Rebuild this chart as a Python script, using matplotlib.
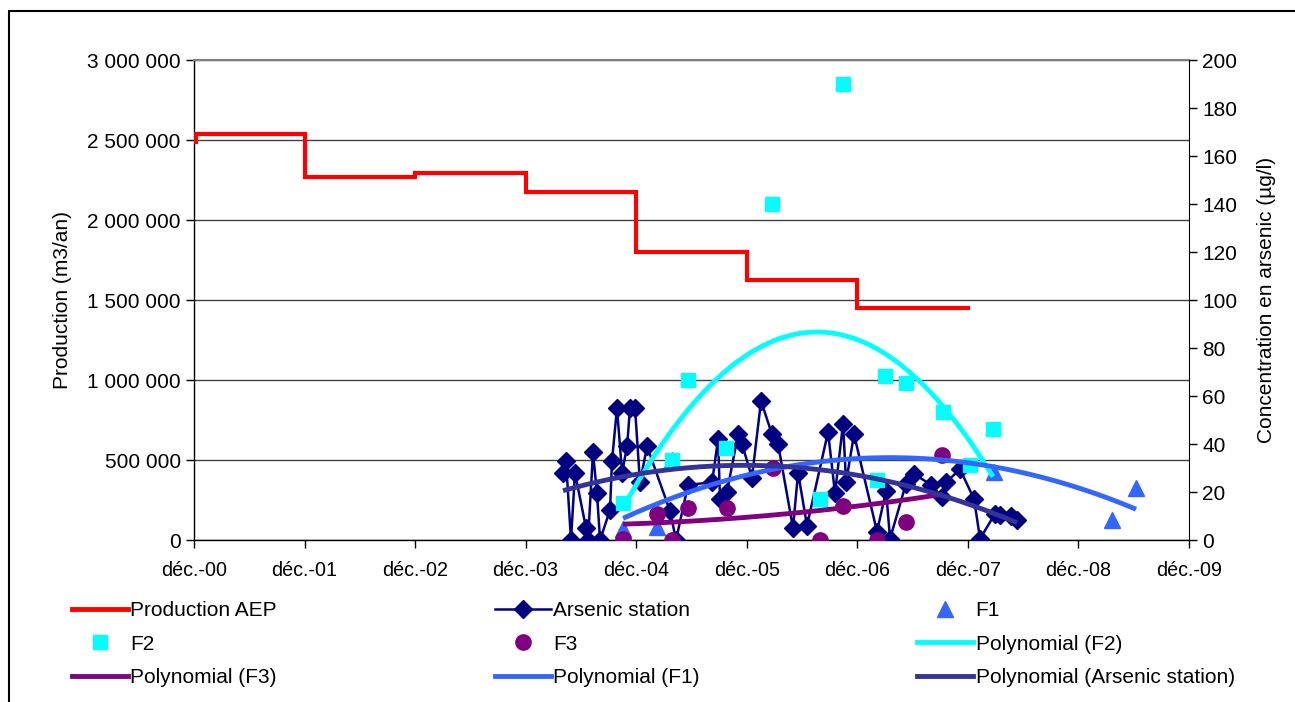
import numpy as np
import matplotlib
matplotlib.use("Agg")
import matplotlib.pyplot as plt
from matplotlib.ticker import FuncFormatter, MultipleLocator
from matplotlib.lines import Line2D
from matplotlib.patches import Rectangle

plt.rcParams['font.family'] = ['Liberation Sans', 'DejaVu Sans']

# ---------------- data (x = years since December 2000) ----------------
x_tick_labels = ['déc.-00', 'déc.-01', 'déc.-02', 'déc.-03', 'déc.-04',
                 'déc.-05', 'déc.-06', 'déc.-07', 'déc.-08', 'déc.-09']

prod_x = [0.0, 0.02, 1.0, 2.0, 3.0, 4.0, 5.0, 6.0, 7.0]
prod_y = [2490000, 2540000, 2271000, 2292000, 2175000, 1797000, 1625000, 1447000, 1447000]

ars_x = [3.338, 3.365, 3.410, 3.446, 3.546, 3.564, 3.609, 3.645, 3.673, 3.763,
         3.781, 3.826, 3.872, 3.917, 3.944, 3.989, 4.034, 4.098, 4.306, 4.360,
         4.469, 4.686, 4.740, 4.758, 4.821, 4.921, 4.957, 5.047, 5.129, 5.228,
         5.283, 5.418, 5.464, 5.545, 5.735, 5.798, 5.871, 5.898, 5.970, 6.178,
         6.260, 6.296, 6.440, 6.513, 6.667, 6.766, 6.802, 6.929, 7.056, 7.110,
         7.246, 7.291, 7.390, 7.445]
ars_y = [28, 33, 0, 28, 5, 0, 36.5, 19.5, 0, 12.5,
         33, 55, 28, 39, 55, 55, 24, 39, 12, 0,
         23, 24, 42, 17, 20, 44, 40, 26, 58, 44,
         40, 5, 28, 6, 45, 19.5, 48.5, 24, 44, 3.5,
         20.5, 0.5, 23.5, 27.5, 23, 18, 24, 29.5, 17, 0.5,
         11, 10.5, 10, 8.3]

# (one F1 value sits hidden under the F2 square of late 2004)
f1_x = [3.881, 4.188, 4.324, 7.236, 8.304, 8.521]
f1_y = [4.6, 5.5, 33.3, 28.5, 8.3, 21.5]

f2_x = [3.881, 4.324, 4.469, 4.812, 5.228, 5.663, 5.871, 6.178, 6.251, 6.440,
        6.775, 7.019, 7.227]
f2_y = [15.3, 33.3, 66.7, 38.2, 140, 17, 190, 25, 68.3, 65.6,
        53.2, 31.3, 46.3]

f3_x = [3.881, 4.188, 4.324, 4.469, 4.821, 5.237, 5.663, 5.871, 6.178, 6.440, 6.766]
f3_y = [0.4, 11, 0, 13.2, 13.2, 30, 0, 14.3, 0, 7.4, 35.4]

# ---------------- colours ----------------
C_PROD = '#FF0000'
C_ARS = '#000080'
C_F1 = '#3366FF'
C_F2 = '#00FFFF'
C_F3 = '#800080'
C_PARS = '#333399'

FS = 15

fig = plt.figure(figsize=(12.95, 7.02), dpi=100)
L, R, T, B = 194 / 1295, 1189 / 1295, 1 - 60 / 702, 1 - 540 / 702
ax = fig.add_axes([L, B, R - L, T - B])
ax2 = ax.twinx()

# production on primary axis
ax.plot(prod_x, prod_y, drawstyle='steps-post', color=C_PROD, lw=3.0,
        solid_joinstyle='miter', zorder=3)
ax.set_xlim(0, 9)
ax.set_ylim(0, 3000000)
ax.yaxis.set_major_locator(MultipleLocator(500000))
ax.yaxis.set_major_formatter(FuncFormatter(lambda v, p: f"{int(v):,}".replace(',', ' ')))
ax.set_xticks(range(len(x_tick_labels)))
ax.set_xticklabels(x_tick_labels)
ax.set_ylabel('Production (m3/an)', fontsize=FS, labelpad=11)
ax.grid(axis='y', color='#404040', lw=1.0)
ax.set_axisbelow(True)
ax.tick_params(axis='y', labelsize=FS, direction='out', length=6, width=1, color='#000000')
ax.tick_params(axis='x', labelsize=14.2, direction='out', length=6, width=1, color='#000000', pad=9)
for s in ['left', 'bottom']:
    ax.spines[s].set_color('#000000')
    ax.spines[s].set_linewidth(1.0)
ax.spines['top'].set_color('#808080')
ax.spines['top'].set_linewidth(1.5)
ax.spines['right'].set_visible(False)

# arsenic on secondary axis
ax2.set_ylim(0, 200)
ax2.yaxis.set_major_locator(MultipleLocator(20))
ax2.set_ylabel('Concentration en arsenic (µg/l)', fontsize=FS, labelpad=14)
ax2.tick_params(axis='y', labelsize=FS, direction='out', length=6, width=1)
ax2.spines['right'].set_color('#000000')
ax2.spines['top'].set_visible(False)
ax2.spines['left'].set_visible(False)
ax2.spines['bottom'].set_visible(False)

ax2.plot(ars_x, ars_y, color=C_ARS, lw=1.8, marker='D', ms=9, mfc=C_ARS, mec=C_ARS, zorder=3)
ax2.plot(f1_x, f1_y, ls='none', marker='^', ms=11, color=C_F1, zorder=3)
ax2.plot(f2_x, f2_y, ls='none', marker='s', ms=10.5, color=C_F2, zorder=3)
ax2.plot(f3_x, f3_y, ls='none', marker='o', ms=11, color=C_F3, zorder=3)


def trend(xs, ys):
    c = np.polyfit(xs, ys, 2)
    xx = np.linspace(min(xs), max(xs), 200)
    return xx, np.polyval(c, xx)


for xs, ys, col in [(f2_x, f2_y, C_F2), (f3_x, f3_y, C_F3), (f1_x, f1_y, C_F1),
                    (ars_x, ars_y, C_PARS)]:
    xx, yy = trend(xs, ys)
    ax2.plot(xx, yy, color=col, lw=3.5, zorder=4, solid_capstyle='butt')

# legend (row-wise order as in the original)
h = [Line2D([], [], color=C_PROD, lw=3.5),
     Line2D([], [], color=C_ARS, lw=1.8, marker='D', ms=9),
     Line2D([], [], ls='none', marker='^', ms=11, color=C_F1),
     Line2D([], [], ls='none', marker='s', ms=10.5, color=C_F2),
     Line2D([], [], ls='none', marker='o', ms=11, color=C_F3),
     Line2D([], [], color=C_F2, lw=3.5),
     Line2D([], [], color=C_F3, lw=3.5),
     Line2D([], [], color=C_F1, lw=3.5),
     Line2D([], [], color=C_PARS, lw=3.5)]
lab = ['Production AEP', 'Arsenic station', 'F1',
       'F2', 'F3', 'Polynomial (F2)',
       'Polynomial (F3)', 'Polynomial (F1)', 'Polynomial (Arsenic station)']
order = [0, 3, 6, 1, 4, 7, 2, 5, 8]
fig.legend([h[i] for i in order], [lab[i] for i in order], ncol=3,
           loc='upper left', bbox_to_anchor=(72 / 1295, 1 - 601 / 702),
           frameon=False, fontsize=FS, handlelength=2.7, handletextpad=0.1,
           columnspacing=10.45, labelspacing=0.7, borderaxespad=0, borderpad=0)

# outer frame
fig.patches.append(Rectangle((8.5 / 1295, -0.1), 1.2, 1 - 11 / 702 + 0.1,
                             transform=fig.transFigure, fill=False,
                             edgecolor='black', lw=1.5))

fig.savefig('out.png', dpi=100)
